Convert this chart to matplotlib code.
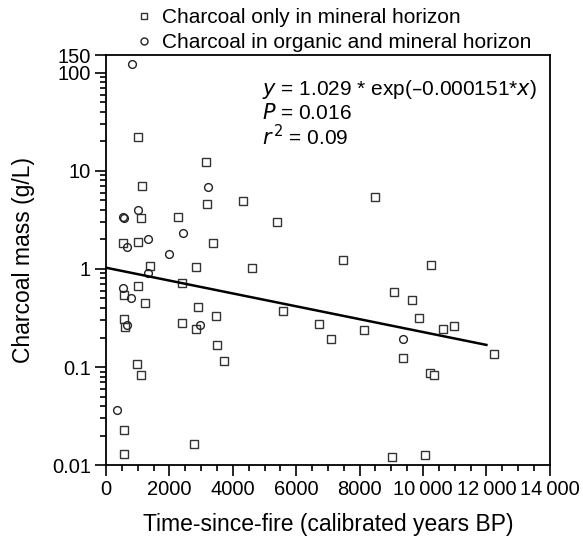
import matplotlib

matplotlib.use("Agg")

import matplotlib.pyplot as plt
import numpy as np
from matplotlib.ticker import FixedLocator, LogLocator, NullFormatter, MultipleLocator

plt.rcParams["font.family"] = ["Liberation Sans", "DejaVu Sans"]

# charcoal only in mineral horizon (years BP, g/L)
mineral_x = [1014, 3144, 1128, 3188, 4309, 1109, 2262, 5402, 541, 1014, 3365,
             1370, 2841, 4615, 2410, 992, 573, 1213, 2914, 3481, 561, 593,
             2410, 2841, 3502, 3711, 982, 1097, 561, 561, 2788, 8480, 7481,
             10253, 5582, 9078, 9655, 9865, 6716, 7103, 8133, 9361, 10622,
             10968, 10222, 10348, 9025, 10055, 12238]
mineral_y = [22.2, 12.2, 7.07, 4.57, 4.98, 3.27, 3.39, 3.03, 1.82, 1.87, 1.85,
             1.07, 1.05, 1.02, 0.726, 0.667, 0.545, 0.449, 0.408, 0.331, 0.306,
             0.254, 0.281, 0.244, 0.168, 0.115, 0.108, 0.083, 0.0227, 0.0131,
             0.0163, 5.35, 1.24, 1.10, 0.369, 0.584, 0.477, 0.313, 0.274,
             0.193, 0.238, 0.123, 0.244, 0.264, 0.086, 0.082, 0.0120, 0.0126,
             0.137]

# charcoal in organic and mineral horizon
organic_x = [825, 3207, 1002, 545, 575, 2420, 646, 1307, 1979, 1329, 541, 793,
             667, 2955, 352, 9361]
organic_y = [122, 6.85, 3.97, 3.40, 3.34, 2.30, 1.66, 2.02, 1.42, 0.91, 0.646,
             0.50, 0.266, 0.27, 0.0364, 0.193]

# fitted model y = a * exp(b * x)
fit_a = 1.029
fit_b = -0.000151
fit_range = [0, 12000]

x_ticks = [0, 2000, 4000, 6000, 8000, 10000, 12000, 14000]
x_labels = ["0", "2000", "4000", "6000", "8000", "10\u2009000", "12\u2009000", "14\u2009000"]
y_ticks = [0.01, 0.1, 1, 10, 100, 150]
y_labels = ["0.01", "0.1", "1", "10", "100", "150"]

fig = plt.figure(figsize=(5.83, 5.44), dpi=100)
ax = fig.add_axes([0.182, 0.145, 0.761, 0.753])

ax.plot(mineral_x, mineral_y, linestyle="none", marker="s", markersize=5.4,
        markerfacecolor="white", markeredgecolor="#333333", markeredgewidth=1.0,
        label="Charcoal only in mineral horizon")
ax.plot(organic_x, organic_y, linestyle="none", marker="o", markersize=5.6,
        markerfacecolor="none", markeredgecolor="#222222", markeredgewidth=1.0,
        label="Charcoal in organic and mineral horizon")

xs = np.linspace(fit_range[0], fit_range[1], 100)
ax.plot(xs, fit_a * np.exp(fit_b * xs), color="black", linewidth=1.8)

ax.set_yscale("log")
ax.set_xlim(0, 14000)
ax.set_ylim(0.01, 150)

ax.xaxis.set_major_locator(FixedLocator(x_ticks))
ax.set_xticklabels(x_labels)
ax.xaxis.set_minor_locator(MultipleLocator(500))
ax.yaxis.set_major_locator(FixedLocator(y_ticks))
ax.set_yticklabels(y_labels)
ax.yaxis.set_minor_locator(LogLocator(base=10, subs=np.arange(2, 10), numticks=20))
ax.yaxis.set_minor_formatter(NullFormatter())

ax.tick_params(which="major", direction="out", length=8, width=1.2, labelsize=14.5, pad=3)
ax.tick_params(which="minor", direction="out", length=4.5, width=1.2)
for spine in ax.spines.values():
    spine.set_linewidth(1.3)

ax.set_xlabel("Time-since-fire (calibrated years BP)", fontsize=16.5, labelpad=10)
ax.set_ylabel("Charcoal mass (g/L)", fontsize=16.5, labelpad=12)

note_size = 15
ax.text(0.352, 0.918, "$\\it{y}$ = 1.029 * exp(\u20130.000151*$\\it{x}$)", transform=ax.transAxes,
        fontsize=note_size, va="center", ha="left")
ax.text(0.352, 0.860, "$\\it{P}$ = 0.016", transform=ax.transAxes,
        fontsize=note_size, va="center", ha="left")
ax.text(0.352, 0.802, "$\\it{r}$$^{\\,2}$ = 0.09", transform=ax.transAxes,
        fontsize=note_size, va="center", ha="left")

fig.legend(*ax.get_legend_handles_labels(), loc="upper left",
           bbox_to_anchor=(0.234, 0.985), frameon=False,
           fontsize=15, handlelength=0.7, handletextpad=0.55, labelspacing=0.3,
           borderpad=0, borderaxespad=0, markerscale=0.9)

fig.savefig("out.png", dpi=100)
